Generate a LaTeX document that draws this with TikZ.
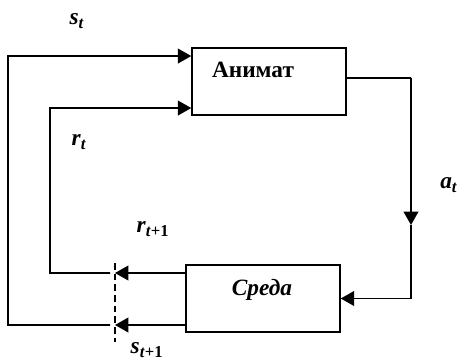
\documentclass[tikz,border=0pt]{standalone}
\usepackage{fontspec}
\setmainfont{Liberation Serif}
\usetikzlibrary{arrows.meta}

\tikzset{
  blok/.style={draw, line width=1.1pt, minimum width=115.5pt, minimum height=50.25pt, inner sep=0pt},
  lbl/.style={font=\fontsize{17.5}{21}\selectfont\bfseries, inner sep=0pt},
  strelka/.style={line width=1.3pt, -{Triangle[length=10pt,width=11pt]}},
  linija/.style={line width=1.3pt}
}

\newcommand{\peremennaja}[2]{\textit{#1}\textsubscript{\fontsize{12.5}{13}\selectfont #2}}

\begin{document}
\begin{tikzpicture}[x=0.75pt, y=-0.75pt]
      \useasboundingbox (0,0) rectangle (461,361);

      \begin{scope}[every node/.style={blok}]
        \node (animat) at (269,81.5)  {};
        \node (sreda)  at (263,298.5) {};
      \end{scope}

      \begin{scope}[every node/.style={lbl}]
        \node (animattxt) at (253,70)  {Анимат};
        \node (sredatxt)  at (262,290) {\itshape Среда};
        \node (st)  at (77,21)   {\peremennaja{s}{\textit{t}}};
        \node (rt)  at (79,142)  {\peremennaja{r}{\textit{t}}};
        \node (at)  at (449,185) {\peremennaja{a}{\textit{t}}};
        \node (rt1) at (153,229) {\peremennaja{r}{\textit{t}+1}};
        \node (st1) at (147,350) {\peremennaja{s}{\textit{t}+1}};
      \end{scope}

      % tochki povorota
      \coordinate (a1) at (411,78);
      \coordinate (a2) at (411,225);
      \coordinate (a3) at (411,298.5);
      \coordinate (d1) at (115,263);
      \coordinate (d2) at (115,342);
      \coordinate (r0) at (110,273);
      \coordinate (r1) at (50,273);
      \coordinate (r2) at (50,108);
      \coordinate (s0) at (110,325);
      \coordinate (s1) at (8,325);
      \coordinate (s2) at (8,56);

      \draw[linija] ([yshift=2.6pt]animat.east) -- (a1);
      \draw[strelka] (a1) -- (a2);
      \draw[strelka] (a2) -- (a3) -- (sreda.east);

      \draw[strelka] ([yshift=19.1pt]sreda.west) -- (d1 |- r0);
      \draw[strelka] ([yshift=-19.9pt]sreda.west) -- (d2 |- s0);
      \draw[line width=0.9pt, dash pattern=on 5pt off 3pt] (d1) -- (d2);

      \draw[strelka] (r0) -- (r1) -- (r2) -- ([yshift=-19.9pt]animat.west);
      \draw[strelka] (s0) -- (s1) -- (s2) -- ([yshift=19.1pt]animat.west);

    \end{tikzpicture}
\end{document}
